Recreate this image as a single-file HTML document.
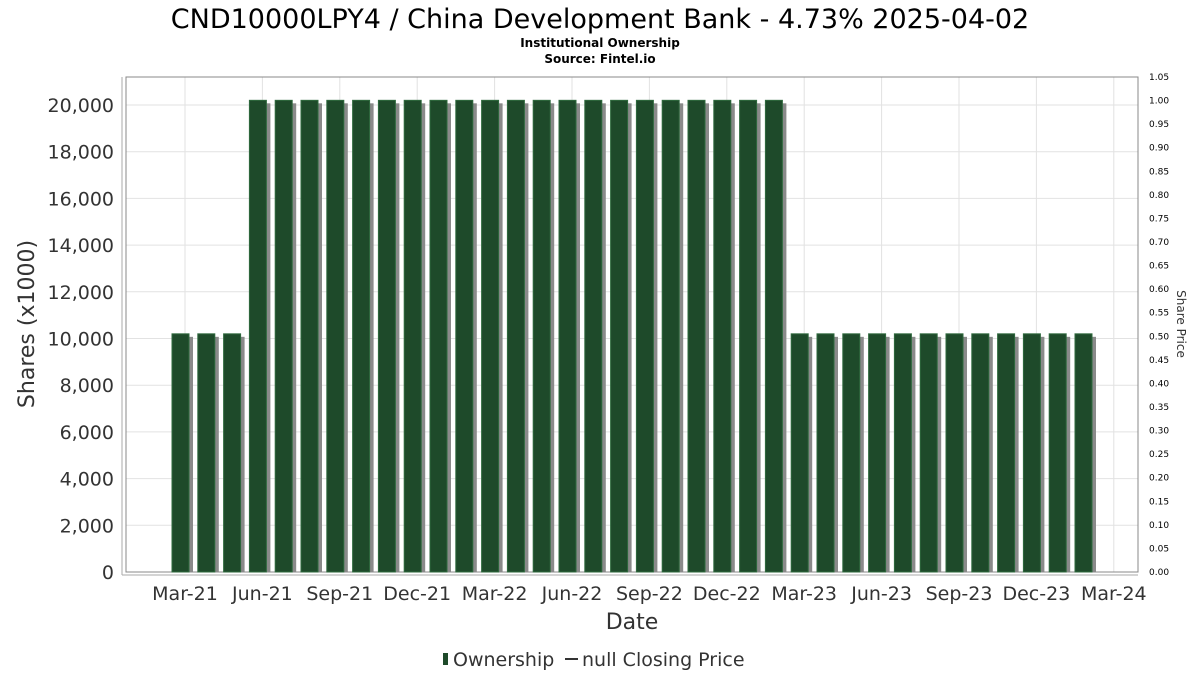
<!DOCTYPE html>
<html><head><meta charset="utf-8"><style>
body{margin:0;background:#fff;font-family:"DejaVu Sans","Liberation Sans",sans-serif;}
</style></head><body>
<svg width="1200" height="675" xmlns="http://www.w3.org/2000/svg" font-family="DejaVu Sans, Liberation Sans, sans-serif">
<text x="600" y="28" text-anchor="middle" font-size="27" fill="#000">CND10000LPY4 / China Development Bank - 4.73% 2025-04-02</text>
<text x="600" y="47" text-anchor="middle" font-size="12" font-weight="bold">Institutional Ownership</text>
<text x="600" y="63" text-anchor="middle" font-size="12" font-weight="bold">Source: Fintel.io</text>
<g id="grid"></g>
<rect x="126" y="77" width="1012" height="495" fill="none" stroke="#888"/>
<line x1="122" y1="77" x2="122" y2="575" stroke="#aaa"/>
<line x1="122" y1="575" x2="1138" y2="575" stroke="#aaa"/>
<g id="bars"></g>
<g id="yticks"></g>
<g id="rticks"></g>
<g id="xticks"></g>
<text transform="translate(34,324) rotate(-90)" text-anchor="middle" font-size="22" fill="#333">Shares (x1000)</text>
<text transform="translate(1177,324) rotate(90)" text-anchor="middle" font-size="12" fill="#333">Share Price</text>
<text x="632" y="629" text-anchor="middle" font-size="22" fill="#333">Date</text>
<g>
<rect x="443" y="653" width="5" height="12" fill="#1e4a2a"/>
<text x="453" y="666" font-size="19" fill="#333">Ownership</text>
<line x1="565" y1="659" x2="578" y2="659" stroke="#333" stroke-width="2"/>
<text x="582" y="666" font-size="19" fill="#333">null Closing Price</text>
</g>
</svg>
<script>
const values=[10200,10200,10200,20200,20200,20200,20200,20200,20200,20200,20200,20200,20200,20200,20200,20200,20200,20200,20200,20200,20200,20200,20200,20200,10200,10200,10200,10200,10200,10200,10200,10200,10200,10200,10200,10200];
const yTicks=[0,2000,4000,6000,8000,10000,12000,14000,16000,18000,20000];
const rTicks=[0,0.05,0.1,0.15,0.2,0.25,0.3,0.35,0.4,0.45,0.5,0.55,0.6,0.65,0.7,0.75,0.8,0.85,0.9,0.95,1.0,1.05];
const xTickLabels=["Mar-21","Jun-21","Sep-21","Dec-21","Mar-22","Jun-22","Sep-22","Dec-22","Mar-23","Jun-23","Sep-23","Dec-23","Mar-24"];
const NS="http://www.w3.org/2000/svg";
const plotTop=77,plotBot=572;
function y(v){return plotBot-(v/20000)*(plotBot-105);}
function yr(v){return plotBot-(v/1.05)*(plotBot-plotTop);}
function xm(m){return 181+m*25.8;}
function mk(p,t,a){const e=document.createElementNS(NS,t);for(const k in a)e.setAttribute(k,a[k]);document.getElementById(p).appendChild(e);return e;}
yTicks.forEach(v=>{
 const g=mk('grid','line',{x1:126,x2:1138,y1:y(v),y2:y(v),stroke:'#e2e2e2'});
 
 
 const t=mk('yticks','text',{x:114,y:y(v)+7,'text-anchor':'end','font-size':19,fill:'#333'});
 t.textContent=v.toLocaleString('en-US');
 
 
});
xTickLabels.forEach((l,i)=>{
 const x=xm(i*3)+4;
 const g=mk('grid','line',{x1:x,x2:x,y1:plotTop,y2:plotBot,stroke:'#e2e2e2'});
 
 
 const t=mk('xticks','text',{x:x,y:600,'text-anchor':'middle','font-size':19,fill:'#333'});
 t.textContent=l;
 
 
});
rTicks.forEach(v=>{
 const t=mk('rticks','text',{x:1149,y:yr(v)+3,'font-size':9,fill:'#000'});
 t.textContent=v.toFixed(2);
 
 
});
values.forEach((v,i)=>{
 const x=xm(i)-9,h=plotBot-y(v);
 const s=mk('bars','rect',{x:x+4,y:y(v)+3,width:17,height:h-3,fill:'#8a8a8a'});
 
 
 const b=mk('bars','rect',{x:x,y:y(v),width:17,height:h,fill:'#1e4a2a',stroke:'#2f6a3e','stroke-width':1});
 
 
});
</script>
</body></html>
